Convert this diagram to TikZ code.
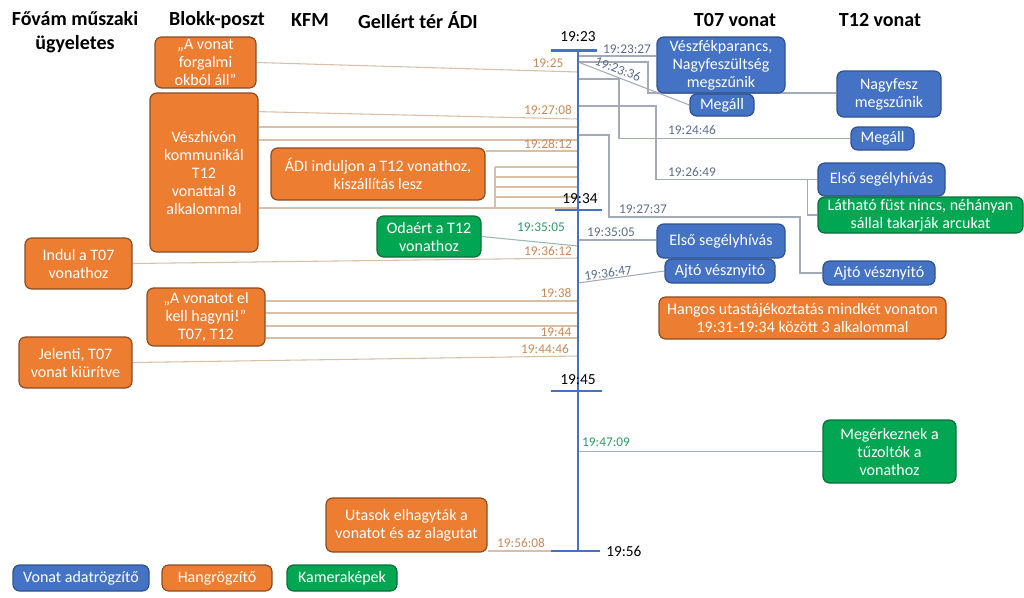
\documentclass[tikz,border=0pt]{standalone}
\usepackage{fontspec}
\setmainfont{Carlito}
\usetikzlibrary{calc,backgrounds}
\definecolor{orfill}{HTML}{ED7D31}
\definecolor{ordraw}{HTML}{8A4C22}
\definecolor{blfill}{HTML}{4472C4}
\definecolor{bldraw}{HTML}{2F528F}
\definecolor{grfill}{HTML}{00A651}
\definecolor{grdraw}{HTML}{0B6E3A}
\definecolor{orline}{HTML}{D9BFA6}
\definecolor{orlab}{HTML}{C8895A}
\definecolor{blline}{HTML}{A3ABB8}
\definecolor{bllab}{HTML}{5B6E8E}
\definecolor{grline}{HTML}{9BB8AE}
\definecolor{grlab}{HTML}{2E9A66}
\definecolor{tlblue}{HTML}{4472C4}
\newcommand\bxfnt{\fontsize{12}{13.5}\selectfont}
\newcommand\hdfnt{\fontsize{15}{18}\selectfont\bfseries}
\newcommand\lbfnt{\fontsize{10}{12}\selectfont}
\newcommand\tkfnt{\fontsize{11.5}{13}\selectfont}
\tikzset{
  bx/.style={rounded corners=5pt, line width=0.9pt, text=white, align=center, inner sep=0pt, font=\bxfnt},
  ob/.style={bx, fill=orfill, draw=ordraw},
  bb/.style={bx, fill=blfill, draw=bldraw},
  gb/.style={bx, fill=grfill, draw=grdraw},
  sz/.style 2 args={minimum width=#1*0.75pt, minimum height=#2*0.75pt},
  hd/.style={font=\hdfnt, align=center, inner sep=0pt},
  ol/.style={draw=orline, line width=0.8pt},
  bl/.style={draw=blline, line width=0.8pt},
  gl/.style={draw=grline, line width=0.8pt},
  olab/.style={text=orlab, font=\lbfnt, inner sep=0pt},
  blab/.style={text=bllab, font=\lbfnt, inner sep=0pt},
  glab/.style={text=grlab, font=\lbfnt, inner sep=0pt},
  tk/.style={font=\tkfnt, inner sep=0pt},
  tline/.style={draw=tlblue, line width=1.6pt},
}
\begin{document}
\begin{tikzpicture}[x=0.75pt,y=-0.75pt]
\useasboundingbox (0,0) rectangle (1024,597);
% headers
\node[hd] (h1) at (75,32) {Fővám műszaki\\ügyeletes};
\node[hd] (h2) at (217,20) {Blokk-poszt};
\node[hd] (h3) at (310,20) {KFM};
\node[hd] (h4) at (418,20) {Gellért tér ÁDI};
\node[hd] (h5) at (735,20) {T07 vonat};
\node[hd] (h6) at (880,20) {T12 vonat};
% orange boxes
\node[ob, sz={101}{51}] (b1) at (205.5,62.5) {„A vonat\\forgalmi\\okból áll”};
\node[ob, sz={108}{159}] (b2) at (204,172.5) {Vészhívón\\kommunikál\\T12\\vonattal 8\\alkalommal};
\node[ob, sz={214}{52}] (b3) at (378,174) {ÁDI induljon a T12 vonathoz,\\kiszállítás lesz};
\node[gb, sz={104}{41}] (b4) at (429,236.5) {Odaért a T12\\vonathoz};
\node[ob, sz={107}{51}] (b5) at (78.5,263.5) {Indul a T07\\vonathoz};
\node[ob, sz={118}{58}] (b6) at (206,317) {„A vonatot el\\kell hagyni!”\\T07, T12};
\node[ob, sz={113}{51}] (b7) at (75.5,362.5) {Jelenti, T07\\vonat kiürítve};
\node[ob, sz={161}{54}] (b8) at (406.5,525) {Utasok elhagyták a\\vonatot és az alagutat};
% train boxes
\node[bb, sz={128}{56}] (b9) at (721,65) {Vészfékparancs,\\Nagyfeszültség\\megszűnik};
\node[bb, sz={64}{22}] (b10) at (722,105) {Megáll};
\node[bb, sz={104}{46}] (b11) at (889,94) {Nagyfesz\\megszűnik};
\node[bb, sz={63}{23}] (b12) at (882.5,138.5) {Megáll};
\node[bb, sz={127}{33}] (b13) at (881.5,179.5) {Első segélyhívás};
\node[gb, sz={205}{36}] (b14) at (920.5,215) {Látható füst nincs, néhányan\\sállal takarják arcukat};
\node[bb, sz={128}{34}] (b15) at (721,241) {Első segélyhívás};
\node[bb, sz={110}{24}] (b16) at (720,271) {Ajtó vésznyitó};
\node[bb, sz={112}{24}] (b17) at (879,273) {Ajtó vésznyitó};
\node[ob, sz={287}{42}] (b18) at (802.5,318) {Hangos utastájékoztatás mindkét vonaton\\19:31-19:34 között 3 alkalommal};
\node[gb, sz={133}{63}] (b19) at (889.5,451.5) {Megérkeznek a\\tűzoltók a\\vonathoz};
% legend
\node[bb, sz={136}{26}] (L1) at (81,578) {Vonat adatrögzítő};
\node[ob, sz={110}{26}] (L2) at (217,578) {Hangrögzítő};
\node[gb, sz={110}{26}] (L3) at (342,578) {Kameraképek};
% timeline coordinates
\coordinate (T) at (578,0);
\coordinate (top) at (578,50.5);
\coordinate (bot) at (578,551);
\coordinate (k23l) at (551,50.5); \coordinate (k23r) at (597,50.5);
\coordinate (k34l) at (555,210); \coordinate (k34r) at (602,210);
\coordinate (k45l) at (551,391); \coordinate (k45r) at (602,391);
\coordinate (k56l) at (551,551); \coordinate (k56r) at (600,551);
\node[tk] (l23) at (578,37) {19:23};
\node[tk] (l34) at (580,199) {19:34};
\node[tk] (l45) at (578,380) {19:45};
\node[tk, anchor=west] (l56) at (606,551) {19:56};
% connection points on the timeline
\coordinate (a1925) at (578,72);
\coordinate (a2708) at (578,119);
\coordinate (a2710) at (578,127);
\coordinate (a2720) at (578,140);
\coordinate (a2812) at (578,151);
\coordinate (q1) at (578,167);
\coordinate (q2) at (578,177);
\coordinate (q3) at (578,187);
\coordinate (q4) at (578,197);
\coordinate (brx) at (495,208);
\coordinate (a3340) at (578,208);
\coordinate (a3612) at (578,258);
\coordinate (a3800) at (578,301);
\coordinate (a3900) at (578,313);
\coordinate (a4100) at (578,326);
\coordinate (a4400) at (578,338);
\coordinate (a4446) at (578,356);
\coordinate (g3505) at (578,246);
\coordinate (a2327) at (578,56);
\coordinate (a2336) at (578,62);
\coordinate (a2446) at (578,79);
\coordinate (a2649) at (578,106);
\coordinate (a2737) at (578,135);
\coordinate (a3505) at (578,240);
\coordinate (a3647) at (578,283);
\coordinate (c1) at (648,93);
\coordinate (c2) at (619,0);
\coordinate (c3) at (656,0);
\coordinate (c4) at (609,217);
\coordinate (c5) at (800,0);
% time labels
\node[olab] (t1) at (548,63) {19:25};
\node[olab] (t2) at (548,110) {19:27:08};
\node[olab] (t3) at (548,144) {19:28:12};
\node[olab] (t4) at (548,251) {19:36:12};
\node[olab] (t5) at (556,293) {19:38};
\node[olab] (t6) at (556,332) {19:44};
\node[olab] (t7) at (545,349) {19:44:46};
\node[olab] (t8) at (521,543) {19:56:08};
\node[glab] (t9) at (541,227) {19:35:05};
\node[glab] (t10) at (606,442) {19:47:09};
\node[blab] (t11) at (627,49) {19:23:27};
\node[blab, rotate=-21] (t12) at (618,69) {19:23:36};
\node[blab] (t13) at (692,130) {19:24:46};
\node[blab] (t14) at (692,172) {19:26:49};
\node[blab] (t15) at (643,209) {19:27:37};
\node[blab] (t16) at (611,232) {19:35:05};
\node[blab, rotate=8] (t17) at (608,273) {19:36:47};
\begin{pgfonlayer}{background}
% orange connectors
\draw[ol] (b1.east) -- (a1925);
\draw[ol] ($(b2.north east)!0.12!(b2.south east)$) -- (a2708);
\draw[ol] (a2710 -| b2.east) -- (a2710);
\draw[ol] (a2720 -| b2.east) -- (a2720);
\draw[ol] (a2812 -| b3.east) -- (a2812);
\draw[ol] (q1 -| brx) -- (brx);
\foreach \q in {q1,q2,q3,q4} \draw[ol] (\q -| brx) -- (\q);
\draw[ol] (a3340 -| b2.east) -- (a3340);
\draw[ol] (b5.east) -- (a3612);
\foreach \q in {a3800,a3900,a4100,a4400} \draw[ol] (\q -| b6.east) -- (\q);
\draw[ol] (b7.east) -- (a4446);
\draw[ol] (k56l -| b8.east) -- (k56l);
% camera connectors
\draw[gl] (b4.east) -- (g3505);
\draw[gl] (b19.west) -- (b19.west -| T);
% train data connectors
\draw[bl] (a2327) -- (a2327 -| b9.west);
\draw[bl] (a2336) -- (b10.west);
\draw[bl] (a2336) -| (c1) -- (c1 -| b11.west);
\draw[bl] (a2446) -| (c2 |- b12.west) -- (b12.west);
\draw[bl] (a2649) -| (c3 |- b13.west) -- (b13.west);
\draw[bl] (b14.west) -- ++(-10,0) |- (b13.west);
\draw[bl] (a2737) -| (c4) -| (c5 |- b17.west) -- (b17.west);
\draw[bl] (a3505) -- (a3505 -| b15.west);
\draw[bl] (a3647) -- (b16.west);
% timeline
\draw[tline] (top) -- (bot);
\draw[tline] (k23l) -- (k23r);
\draw[tline] (k34l) -- (k34r);
\draw[tline] (k45l) -- (k45r);
\draw[tline] (k56l) -- (k56r);
\end{pgfonlayer}
\end{tikzpicture}
\end{document}
